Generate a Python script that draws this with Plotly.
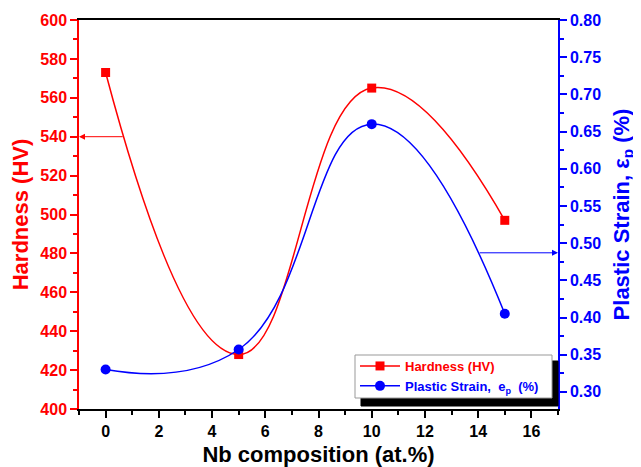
import plotly.graph_objects as go

nb = [0, 5, 10, 15]
hardness = [573, 428, 565, 497]
strain = [0.33, 0.357, 0.66, 0.405]

RED = "#ff0000"
BLUE = "#0000ff"
FONT = "Liberation Sans"

# page has an 8px body margin: figure is 633x459 placed at (8, 8)
W, H = 633, 459
L, T = 71, 12
PW, PH = 479, 389
R, B = W - L - PW, H - T - PH


def px(xp):
    return (xp - 8 - L) / PW


def py(yp):
    return (T + PH - (yp - 8)) / PH


fig = go.Figure()
fig.add_trace(go.Scatter(
    x=nb, y=hardness, mode="lines+markers",
    name="<span style='color:#ff0000'>Hardness (HV)</span>",
    line=dict(color=RED, width=1.5, shape="spline", smoothing=1.3),
    marker=dict(symbol="square", size=9, color=RED),
    yaxis="y"))
fig.add_trace(go.Scatter(
    x=nb, y=strain, mode="lines+markers",
    name="<span style='color:#0000ff'>Plastic Strain,  e<sub>p</sub>  (%)</span>",
    line=dict(color=BLUE, width=1.5, shape="spline", smoothing=1.3),
    marker=dict(symbol="circle", size=10, color=BLUE),
    yaxis="y2"))

fig.add_annotation(x=-1, y=540, ax=0.7, ay=540, xref="x", yref="y",
                   axref="x", ayref="y", showarrow=True, arrowhead=2,
                   arrowsize=1.2, arrowwidth=1, arrowcolor=RED, text="")
fig.add_annotation(x=17, y=0.487, ax=14.0, ay=0.487, xref="x", yref="y2",
                   axref="x", ayref="y2", showarrow=True, arrowhead=2,
                   arrowsize=1.2, arrowwidth=1, arrowcolor=BLUE, text="")

# legend shadow, then legend box on top of it
fig.add_shape(type="rect", xref="paper", yref="paper",
              x0=px(361), x1=px(558), y0=py(406), y1=py(361),
              fillcolor="#000000", line=dict(color="#000000", width=1),
              layer="above")
fig.add_shape(type="rect", xref="paper", yref="paper",
              x0=px(355), x1=px(552), y0=py(398), y1=py(355),
              fillcolor="#ffffff", line=dict(width=1, color="#999999"),
              layer="above")

tick_font = dict(size=16, family=FONT, weight="bold")

fig.update_layout(
    width=W, height=H,
    margin=dict(l=L, r=R, t=T, b=B, autoexpand=False),
    paper_bgcolor="white", plot_bgcolor="white",
    font=dict(family=FONT, size=14, color="black"),
    showlegend=True,
    legend=dict(x=px(355), y=py(351),
                xanchor="left", yanchor="top",
                bgcolor="rgba(0,0,0,0)", borderwidth=0,
                font=dict(size=13, family=FONT, weight="bold"),
                tracegroupgap=0, itemwidth=40),
    xaxis=dict(range=[-1, 17], tickmode="array", automargin=False,
               tickvals=[0, 2, 4, 6, 8, 10, 12, 14, 16],
               ticks="outside", ticklen=7, tickwidth=1.5, tickcolor="black",
               minor=dict(tickvals=[-1, 1, 3, 5, 7, 9, 11, 13, 15, 17],
                          ticks="outside", ticklen=4, tickcolor="black", tickwidth=1.5),
               showline=True, linecolor="black", linewidth=1.5, mirror=True,
               showgrid=False, zeroline=False,
               tickfont=dict(tick_font, color="black"),
               title=dict(text="Nb composition (at.%)",
                          font=dict(size=22, family=FONT, color="black", weight="bold"),
                          standoff=13)),
    yaxis=dict(range=[400, 600], tickmode="linear", tick0=400, dtick=20,
               automargin=False,
               ticks="outside", ticklen=7, tickwidth=1.5, tickcolor=RED,
               minor=dict(dtick=10, ticks="outside", ticklen=4, tickcolor=RED, tickwidth=1.5),
               showline=True, linecolor=RED, linewidth=1.5,
               showgrid=False, zeroline=False,
               tickfont=dict(tick_font, color=RED),
               title=dict(text="Hardness (HV)",
                          font=dict(size=22, family=FONT, color=RED, weight="bold"),
                          standoff=8)),
    yaxis2=dict(range=[0.277, 0.80], overlaying="y", side="right",
                automargin=True,
                tickmode="linear", tick0=0.30, dtick=0.05, tickformat=".2f",
                ticks="outside", ticklen=7, tickwidth=1.5, tickcolor=BLUE,
                minor=dict(dtick=0.025, ticks="outside", ticklen=4, tickcolor=BLUE, tickwidth=1.5),
                showline=True, linecolor=BLUE, linewidth=1.5,
                showgrid=False, zeroline=False,
                tickfont=dict(tick_font, color=BLUE),
                title=dict(text="Plastic Strain, ε<sub>p</sub> (%)",
                           font=dict(size=22, family=FONT, color=BLUE, weight="bold"),
                           standoff=13)),
)

fig.write_html("out.html")
